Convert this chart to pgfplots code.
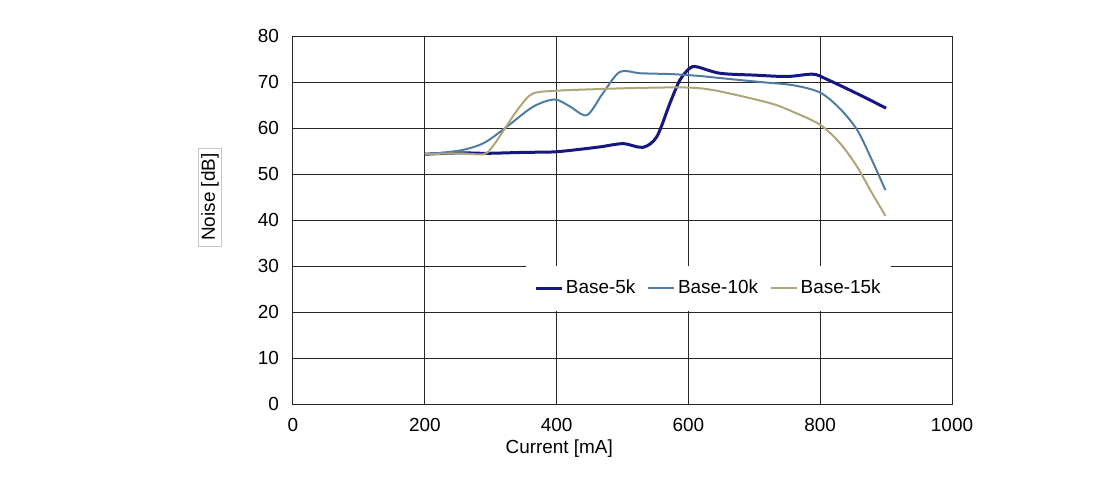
\documentclass[border=0pt]{standalone}
\usepackage{fontspec}
\setmainfont{Liberation Sans}
\usepackage{pgfplots}
\pgfplotsset{compat=1.18}

\definecolor{c5k}{RGB}{20,24,128}
\definecolor{c10k}{RGB}{80,124,164}
\definecolor{c15k}{RGB}{172,166,120}
\newcommand{\lbl}{\fontsize{14.2}{17}\selectfont}

\begin{document}
\begin{tikzpicture}[x=1pt,y=1pt]
\useasboundingbox (-219.75,-56.25) rectangle (617.25,303);
\begin{axis}[
  at={(0,0)}, anchor=south west,
  scale only axis, width=494.25pt, height=276pt,
  xmin=0, xmax=1000, ymin=0, ymax=80,
  xtick={0,200,...,1000}, ytick={0,10,...,80},
  grid=major,
  major grid style={black!85, line width=0.75pt},
  axis line style={black!85, line width=0.75pt},
  major tick length=0pt,
  tick label style={font=\lbl},
  /pgf/number format/assume math mode=true,
  /pgf/number format/1000 sep={},
  xticklabel style={yshift=-7.5pt},
  yticklabel style={xshift=-7pt},
  xlabel={Current [mA]},
  xlabel style={at={(axis description cs:0.404,-0.1223)}, anchor=center, font=\lbl},
  ylabel={Noise [dB]},
  ylabel style={at={(axis description cs:-0.126,0.5625)}, anchor=center, font=\lbl,
    draw=gray!45, line width=0.5pt, inner xsep=4pt, inner ysep=2pt},
  legend columns=3,
  legend cell align=left,
  legend style={at={(axis description cs:0.631,0.315)}, anchor=center,
    draw=none, fill=white, font=\lbl, inner xsep=6pt, inner ysep=9pt,
    /tikz/every even column/.append style={column sep=7pt}},
  legend image code/.code={\draw[#1] (0pt,0pt) -- (19.5pt,0pt);},
]

\addplot[c5k, line width=2.25pt, smooth, tension=0.5] coordinates {
  (200,54.3) (253,54.6) (294,54.5) (350,54.7) (395,54.8) (425,55.2)
  (466,55.9) (501,56.6) (531,55.8) (552,58.1) (572,65.4) (587,70.4)
  (602,73.0) (613,73.3) (648,71.9) (700,71.5) (750,71.2) (789,71.7)
  (810,70.6) (860,67.2) (900,64.3)
};
\addlegendentry{Base-5k}

\addplot[c10k, line width=1.5pt, smooth, tension=0.5] coordinates {
  (200,54.3) (253,55.1) (289,56.7) (322,60.0) (364,64.6) (397,66.2)
  (420,64.7) (446,62.8) (470,67.5) (496,72.2) (527,71.9) (577,71.7)
  (618,71.3) (652,70.8) (709,70.0) (759,69.3) (800,67.7) (830,64.2)
  (856,59.6) (876,53.8) (899,46.5)
};
\addlegendentry{Base-10k}

\addplot[c15k, line width=1.5pt, smooth, tension=0.5] coordinates {
  (200,54.3) (253,54.5) (289,54.3) (303,56.0) (322,60.0) (344,64.6)
  (364,67.5) (400,68.1) (450,68.4) (520,68.7) (598,68.8) (643,68.1)
  (724,65.4) (759,63.5) (800,60.7) (830,56.7) (856,51.6) (876,46.5)
  (899,40.9)
};
\addlegendentry{Base-15k}

\end{axis}
\end{tikzpicture}
\end{document}
